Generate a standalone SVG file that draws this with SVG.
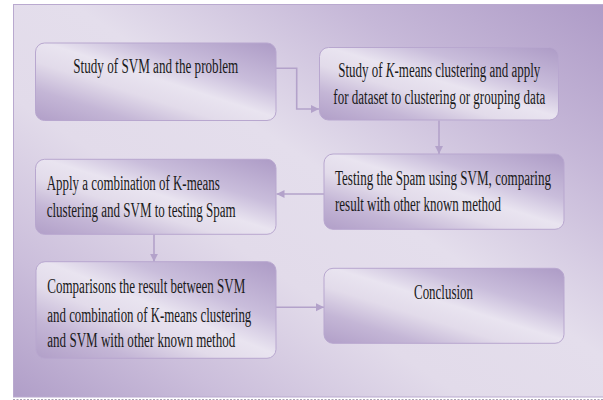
<svg xmlns="http://www.w3.org/2000/svg" width="603" height="400" viewBox="0 0 603 400">
<defs>
<linearGradient id="bg" x1="1" y1="0" x2="0" y2="1">
<stop offset="0" stop-color="#ae9bc7"/>
<stop offset="0.22" stop-color="#c6b8d8"/>
<stop offset="0.45" stop-color="#e4deec"/>
<stop offset="0.62" stop-color="#e2dbea"/>
<stop offset="0.82" stop-color="#cbbedb"/>
<stop offset="1" stop-color="#b09ec8"/>
</linearGradient>
<linearGradient id="ng" x1="1" y1="0" x2="0" y2="1">
<stop offset="0" stop-color="#ad9bc6"/>
<stop offset="0.3" stop-color="#c9bddb"/>
<stop offset="0.48" stop-color="#e9e4f0"/>
<stop offset="0.62" stop-color="#e2dbea"/>
<stop offset="0.8" stop-color="#c4b6d6"/>
<stop offset="1" stop-color="#b19fc8"/>
</linearGradient>
<marker id="ah" markerUnits="userSpaceOnUse" markerWidth="9" markerHeight="9" refX="8" refY="4" orient="auto">
<path d="M0,0 L8,4 L0,8 z" fill="#b3a2ca"/>
</marker>
<style>
.node rect{fill:url(#ng);stroke:#b8a7cf;stroke-width:1}
.conn path{fill:none;stroke:#b3a2ca;stroke-width:1.6}
</style>
</defs>
<rect x="13.5" y="4.5" width="592" height="392.5" fill="url(#bg)" stroke="#b9a9cf" stroke-width="1"/>
<line x1="13" y1="399.5" x2="603" y2="399.5" stroke="#a9a1b3" stroke-width="1" stroke-dasharray="2 1.5"/>
<g id="connectors" class="conn">
<path d="M276,68.3 H296.7 V109 H319" marker-end="url(#ah)"/>
<path d="M439,120.5 V154" marker-end="url(#ah)"/>
<path d="M324,194 H276.5" marker-end="url(#ah)"/>
<path d="M154,234.5 V261.7" marker-end="url(#ah)"/>
<path d="M276,307.3 H324" marker-end="url(#ah)"/>
</g>
<g font-family="'Liberation Serif', 'Times New Roman', serif" font-size="20" fill="#1a1a1a">
<g id="n1" class="node">
<rect x="35.5" y="43" width="240.5" height="77.5" rx="9"/>
<text x="73.3" y="73" textLength="165" lengthAdjust="spacingAndGlyphs">Study of SVM and the problem</text>
</g>
<g id="n2" class="node">
<rect x="319.5" y="47.5" width="239" height="72.5" rx="9"/>
<text x="338.3" y="77.3" textLength="202" lengthAdjust="spacingAndGlyphs">Study of <tspan font-style="italic">K</tspan>-means clustering and apply</text>
<text x="333.3" y="103.5" textLength="212" lengthAdjust="spacingAndGlyphs">for dataset to clustering or grouping data</text>
</g>
<g id="n3" class="node">
<rect x="324" y="154" width="240" height="75.3" rx="9"/>
<text x="335" y="185" textLength="216" lengthAdjust="spacingAndGlyphs">Testing the Spam using SVM, comparing</text>
<text x="335" y="211" textLength="166" lengthAdjust="spacingAndGlyphs">result with other known method</text>
</g>
<g id="n4" class="node">
<rect x="35.5" y="159.3" width="240.5" height="75" rx="9"/>
<text x="46.7" y="190" textLength="173" lengthAdjust="spacingAndGlyphs">Apply a combination of K-means</text>
<text x="46.7" y="216.7" textLength="189" lengthAdjust="spacingAndGlyphs">clustering and SVM to testing Spam</text>
</g>
<g id="n5" class="node">
<rect x="36" y="261.7" width="240" height="96.6" rx="9"/>
<text x="47.3" y="292.7" textLength="198" lengthAdjust="spacingAndGlyphs">Comparisons the result between SVM</text>
<text x="47.3" y="321.5" textLength="204" lengthAdjust="spacingAndGlyphs">and combination of K-means clustering</text>
<text x="47.3" y="346.7" textLength="188" lengthAdjust="spacingAndGlyphs">and SVM with other known method</text>
</g>
<g id="n6" class="node">
<rect x="324" y="268.3" width="240" height="75" rx="9"/>
<text x="414" y="299.3" textLength="59" lengthAdjust="spacingAndGlyphs">Conclusion</text>
</g>
</g>
</svg>
